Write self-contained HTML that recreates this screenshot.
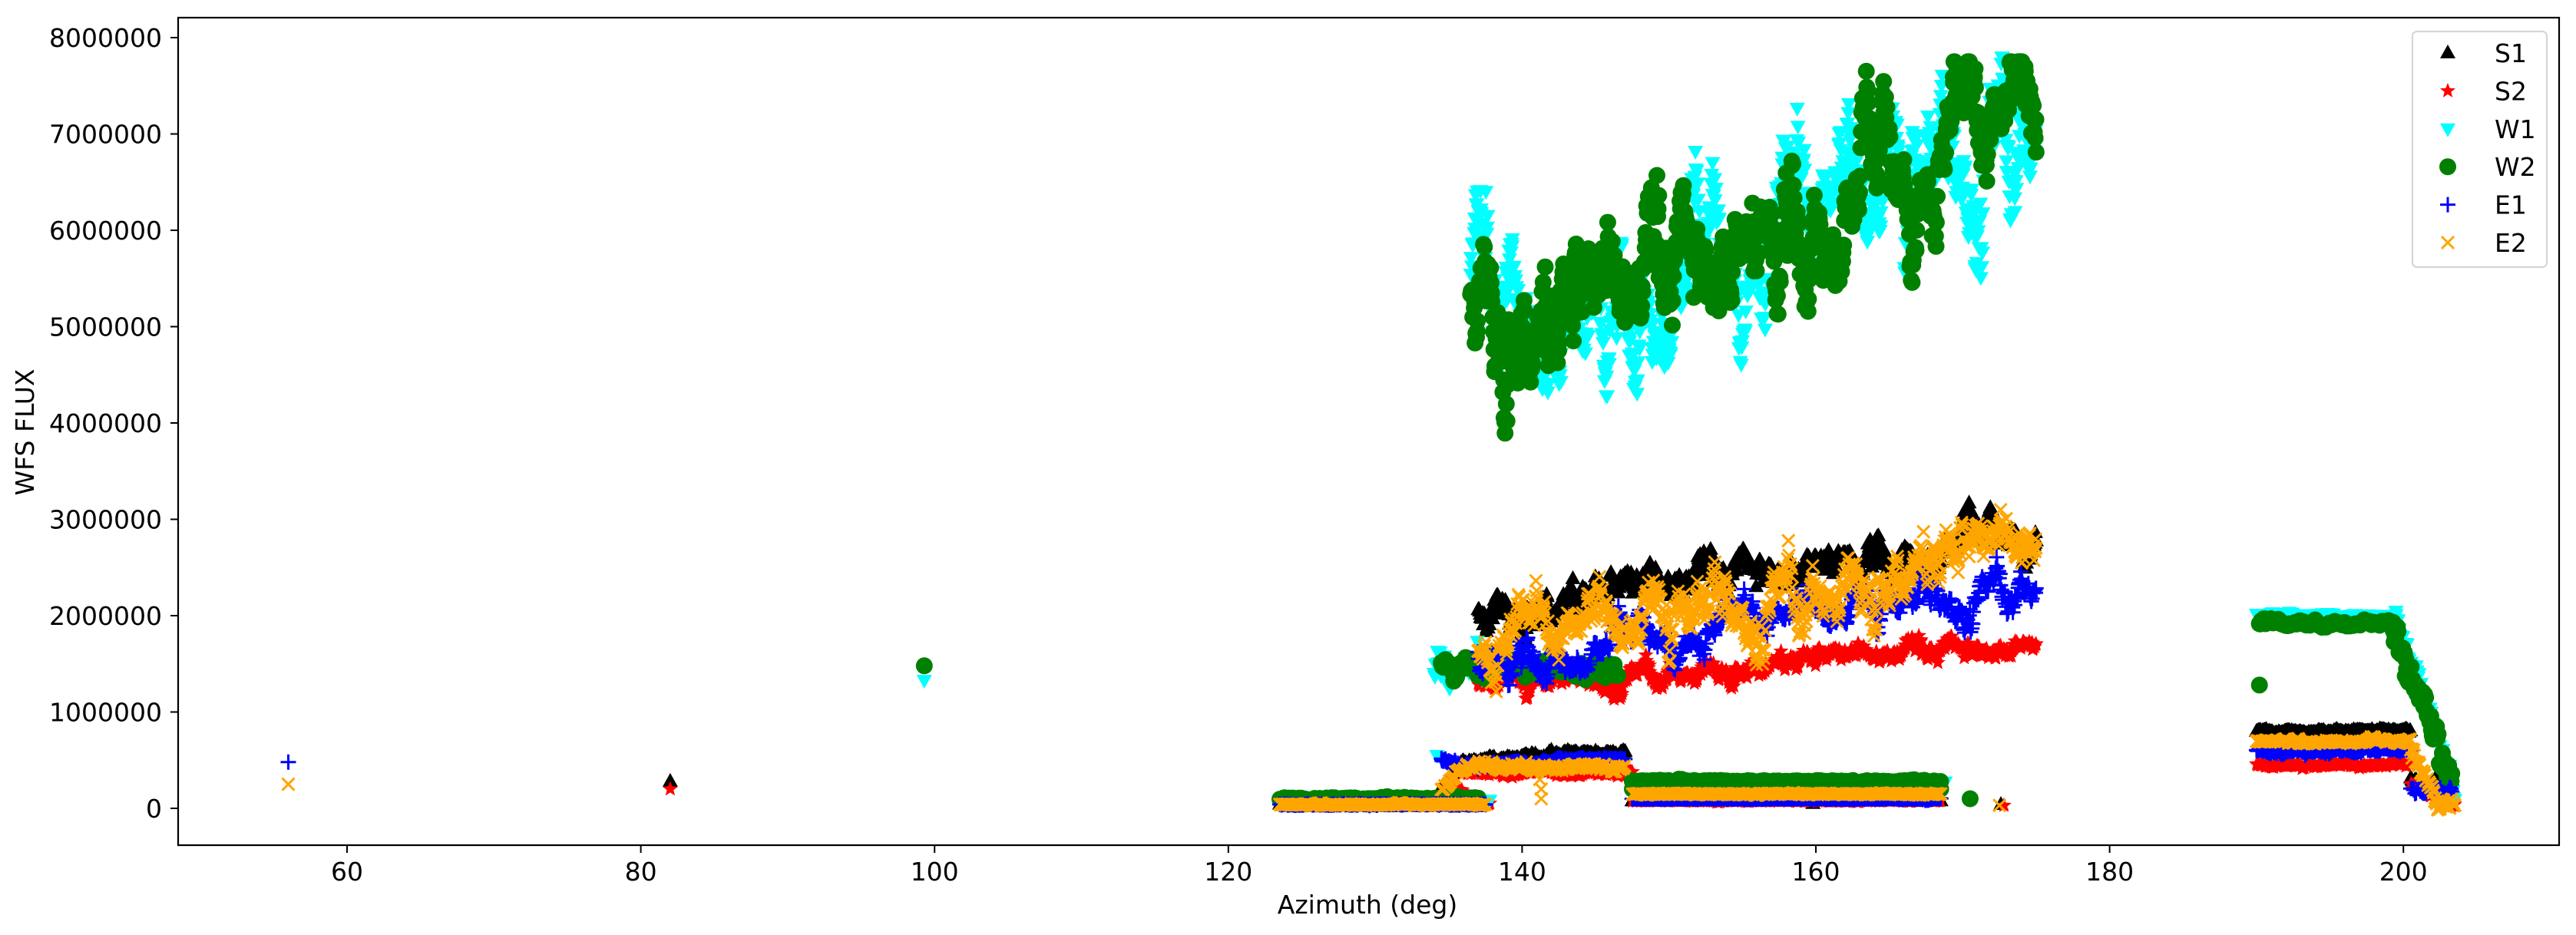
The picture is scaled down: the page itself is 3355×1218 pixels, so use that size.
<!DOCTYPE html>
<html><head><meta charset="utf-8"><style>
html,body{margin:0;padding:0;background:#fff;}
svg{display:block;}
text{font-family:"DejaVu Sans","Liberation Sans",sans-serif;font-size:33px;fill:#000;}
</style></head><body>
<svg id="s" width="3355" height="1218" viewBox="0 0 3355 1218" xmlns="http://www.w3.org/2000/svg">
<rect width="3355" height="1218" fill="#fff"/>
<g id="data"></g>
<g id="axes" stroke="#000" stroke-width="2.2" fill="none">
<rect x="232" y="23" width="3101" height="1078"/>
</g>
<g id="ticks"></g>
<text x="1781" y="1190" text-anchor="middle">Azimuth (deg)</text>
<text transform="translate(44,563) rotate(-90)" text-anchor="middle">WFS FLUX</text>
<g id="legend">
<rect x="3142" y="41" width="175" height="307" rx="6" fill="#fff" fill-opacity="0.8" stroke="#d6d6d6" stroke-width="2.2"/>
</g>
</svg>
<script>
const NS="http://www.w3.org/2000/svg";
const X=a=>452+(a-60)*19.13, Y=m=>1053-m*125.5;
let seed=12345;function r(){seed=(seed*1103515245+12345)&0x7fffffff;return seed/0x7fffffff;}
function g(){return (r()+r()+r()-1.5)*1.4;}
const shapes={
 tri:(x,y)=>`M${x} ${y-11}L${x+10} ${y+7}L${x-10} ${y+7}Z`,
 dtri:(x,y)=>`M${x} ${y+11}L${x+10} ${y-7}L${x-10} ${y-7}Z`,
 star:(x,y)=>{let s="";for(let i=0;i<10;i++){const rr=i%2?4.5:10.5,a=-Math.PI/2+i*Math.PI/5;s+=(i?"L":"M")+(x+rr*Math.cos(a)).toFixed(1)+" "+(y+rr*Math.sin(a)).toFixed(1);}return s+"Z";},
 circ:(x,y)=>`M${x-11} ${y}a11 11 0 1 0 22 0a11 11 0 1 0 -22 0`,
 plus:(x,y)=>`M${x-10} ${y}h20M${x} ${y-10}v20`,
 cross:(x,y)=>`M${x-8} ${y-8}l16 16M${x-8} ${y+8}l16 -16`
};
const series={S1:{c:"#000",s:"tri",p:[]},S2:{c:"#f00",s:"star",p:[]},W1:{c:"#0ff",s:"dtri",p:[]},W2:{c:"#008000",s:"circ",p:[]},E1:{c:"#00f",s:"plus",p:[]},E2:{c:"#ffa500",s:"cross",p:[]}};
function walk(name,a0,a1,n,f,amp,sm,jit,cap){if(jit===undefined)jit=amp*0.3;let w=0,sp=0,sv=0;for(let i=0;i<n;i++){const a=a0+(a1-a0)*i/(n-1)+(r()-0.5)*0.03;w=w*sm+g()*amp;
 if(sp>0)sp--;else if(r()<0.02){sp=Math.floor(3+r()*6);sv=(r()-0.5)*amp*8;}
 const spk=sp>0?sv*(0.5+r()*0.5):0;
 let v=f(a)+w+g()*jit+spk; if(cap!==undefined)v=Math.min(v,cap);
 series[name].p.push([a,v]);}}
// isolated
series.E1.p.push([56,0.48]);series.E2.p.push([56,0.25]);
series.S1.p.push([82,0.28]);series.S2.p.push([82,0.2]);
series.W1.p.push([99.3,1.33]);series.W2.p.push([99.3,1.48]);
// block A
walk("S1",123.5,137.5,200,a=>0.04,0.004,0.5,0.002);walk("S2",123.5,137.8,200,a=>0.05,0.004,0.5,0.002);
walk("W1",123.5,137.8,200,a=>0.08,0.004,0.5,0.002);walk("W2",123.5,137,200,a=>0.1,0.006,0.5,0.002);
walk("E1",123.5,137.5,200,a=>0.04,0.004,0.5,0.002);walk("E2",123.5,137.5,200,a=>0.04,0.005,0.5,0.002);
// block B
walk("S1",134.5,147,220,a=>a<136?0.2+(a-134.5)*0.2:0.5+(a-136)*0.008,0.012,0.85,0.01);
walk("E1",134.5,147,220,a=>a<135.5?0.5:0.45+(a-136)*0.005,0.012,0.85,0.01);
walk("S2",135,147.5,200,a=>a<136?0.2:0.37,0.012,0.85,0.01);
walk("E2",134.5,147,220,a=>a<136?0.2+(a-134.5)*0.15:0.43,0.015,0.85,0.015);
series.E2.p.push([141.3,0.1]);series.E2.p.push([141.3,0.2]);series.E2.p.push([141.2,0.3]);
series.W1.p.push([134.2,0.55]);
// block C
walk("S1",147.5,168.5,300,a=>0.08,0.004,0.5,0.002);walk("S2",147.5,168.5,300,a=>0.08,0.004,0.5,0.002);
walk("W1",147.5,168.8,300,a=>0.27,0.006,0.5,0.002);walk("W2",147.5,168.5,300,a=>0.28,0.006,0.5,0.002);
walk("W2",147.5,168.5,200,a=>0.2,0.004,0.5,0.002);
walk("E1",147.5,168.5,300,a=>0.1,0.004,0.5,0.002);walk("E2",147.5,168.5,300,a=>0.15,0.004,0.5,0.002);
series.W2.p.push([170.5,0.1]);series.E2.p.push([172.5,0.03]);series.S2.p.push([172.8,0.03]);series.S1.p.push([172.6,0.04]);series.S1.p.push([159.8,0.05]);
// W low population
walk("W1",134,137.5,60,a=>1.45,0.08,0.7,0.05);
walk("W2",134.5,146.5,160,a=>1.45,0.05,0.85,0.03);
// high W band
const hw=a=>a<141?5.5-(a-136.5)*0.1:5.05+(a-141)*0.068;
walk("W1",136.5,175,1000,a=>hw(a)-0.05,0.2,0.95,0.06,7.8);
walk("W2",136.5,175,1000,a=>hw(a),0.2,0.95,0.05,7.75);
// mid band
walk("S2",137,175,800,a=>1.3+(a-137)*0.011,0.035,0.95,0.02);
walk("E1",137,175,800,a=>1.55+(a-137)*0.022,0.06,0.95,0.03);
walk("S1",137,175,800,a=>2.05+(a-137)*0.023,0.06,0.95,0.04);
walk("E2",137,175,800,a=>1.7+(a-137)*0.029,0.1,0.95,0.05);
// block D
walk("W1",190,199.5,150,a=>2.0,0.01,0.8,0.005);walk("W1",199.5,203.5,60,a=>2.0-(a-199.5)*0.45,0.05,0.7,0.05);
walk("W2",190.2,199.3,150,a=>1.92,0.015,0.8,0.005);walk("W2",199.3,203.3,70,a=>1.9-(a-199.3)*0.42,0.06,0.7,0.06);
series.W2.p.push([190.2,1.28]);
walk("S1",190,200.5,160,a=>0.8,0.01,0.8,0.005);walk("S1",200.5,203.3,40,a=>0.25,0.03,0.5,0.03);
walk("E2",190,200.5,160,a=>0.7,0.01,0.8,0.005);walk("E2",200.5,203.5,60,a=>Math.max(0.05,0.6-(a-200.5)*0.3),0.03,0.5,0.03);
walk("E1",190,200.5,160,a=>0.6,0.01,0.8,0.005);walk("E1",200.5,203.3,40,a=>0.2,0.03,0.5,0.02);
walk("S2",190,200.5,160,a=>0.45,0.01,0.8,0.005);walk("S2",200.5,203.5,40,a=>0.25-(a-200.5)*0.08,0.02,0.5,0.01);
const dg=document.getElementById("data");
for(const k of ["S1","S2","W1","W2","E1","E2"]){const s=series[k];let d="";for(const[a,m]of s.p){d+=shapes[s.s](+X(a).toFixed(1),+Y(m).toFixed(1));}
 const p=document.createElementNS(NS,"path");p.setAttribute("d",d);
 if(s.s=="plus"||s.s=="cross"){p.setAttribute("stroke",s.c);p.setAttribute("stroke-width","3");p.setAttribute("fill","none");}else p.setAttribute("fill",s.c);
 dg.appendChild(p);}
const tg=document.getElementById("ticks");let h="";
for(let v=60;v<=200;v+=20){const x=X(v);h+=`<line x1="${x}" y1="1101" x2="${x}" y2="1111" stroke="#000" stroke-width="2"/><text x="${x}" y="1147" text-anchor="middle">${v}</text>`;}
for(let m=0;m<=8;m++){const y=Y(m);h+=`<line x1="222" y1="${y}" x2="232" y2="${y}" stroke="#000" stroke-width="2"/><text x="211" y="${y+12}" text-anchor="end">${m*1000000}</text>`;}
tg.innerHTML=h;
const lg=document.getElementById("legend");let l="";
["S1","S2","W1","W2","E1","E2"].forEach((k,i)=>{const y=69+i*49.4,s=series[k];
 const d=shapes[s.s](3188,y);
 l+=(s.s=="plus"||s.s=="cross")?`<path d="${d}" stroke="${s.c}" stroke-width="3" fill="none"/>`:`<path d="${d}" fill="${s.c}"/>`;
 l+=`<text x="3249" y="${y+12}">${k}</text>`;});
lg.insertAdjacentHTML("beforeend",l);
</script>
</body></html>
